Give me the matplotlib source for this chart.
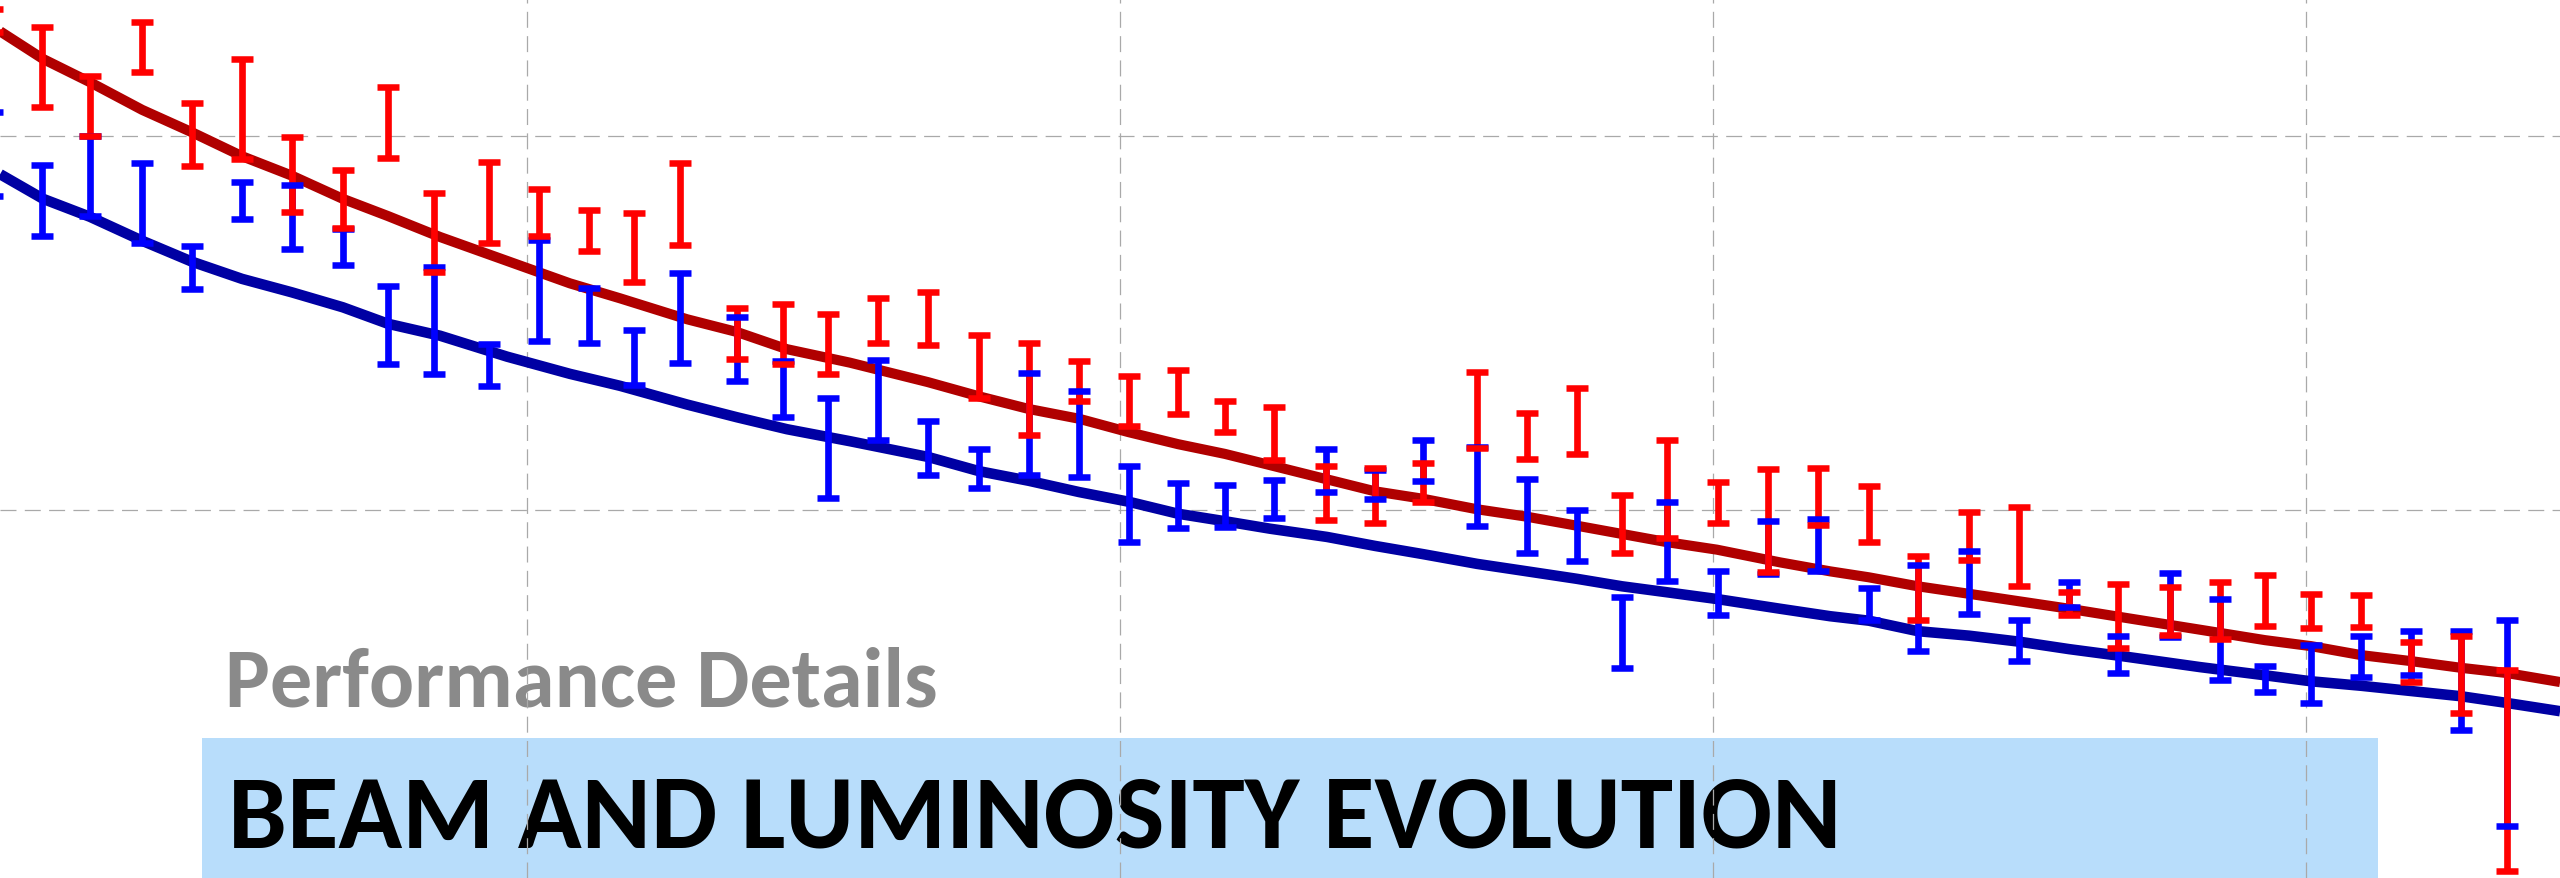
import matplotlib
matplotlib.use("Agg")
import matplotlib.pyplot as plt
from matplotlib.patches import Rectangle
from matplotlib import font_manager

# Measurement times (hours) shared by both series
TIME = [0.196, 0.365, 0.526, 0.703, 0.871, 1.040, 1.208, 1.378, 1.532, 1.686,
        1.872, 2.040, 2.209, 2.362, 2.516, 2.707, 2.864, 3.016, 3.185, 3.353,
        3.524, 3.694, 3.862, 4.031, 4.197, 4.354, 4.519, 4.694, 4.860, 5.021,
        5.205, 5.372, 5.540, 5.694, 5.846, 6.016, 6.187, 6.355, 6.526, 6.692,
        6.863, 7.033, 7.201, 7.366, 7.541, 7.710, 7.862, 8.016, 8.184, 8.353,
        8.523, 8.679]

# Red series: measured values and symmetric errors
RED_VAL = [1.654, 1.592, 1.540, 1.619, 1.502, 1.536, 1.449, 1.416, 1.518, 1.371,
           1.411, 1.398, 1.374, 1.351, 1.409, 1.236, 1.235, 1.222, 1.254, 1.256,
           1.192, 1.162, 1.173, 1.146, 1.158, 1.125, 1.102, 1.023, 1.020, 1.037,
           1.134, 1.099, 1.119, 0.981, 1.028, 1.010, 0.986, 1.018, 0.995, 0.896,
           0.965, 0.951, 0.875, 0.858, 0.865, 0.866, 0.879, 0.865, 0.865, 0.797,
           0.780, 0.652]
RED_ERR = [0.0154, 0.0535, 0.0401, 0.0334, 0.0417, 0.0664, 0.0501, 0.0390, 0.0475, 0.0532,
           0.0539, 0.0311, 0.0271, 0.0459, 0.0552, 0.0338, 0.0401, 0.0401, 0.0301, 0.0350,
           0.0417, 0.0615, 0.0267, 0.0334, 0.0297, 0.0211, 0.0357, 0.0361, 0.0368, 0.0258,
           0.0505, 0.0307, 0.0439, 0.0388, 0.0659, 0.0271, 0.0686, 0.0377, 0.0372, 0.0428,
           0.0318, 0.0532, 0.0158, 0.0428, 0.0321, 0.0378, 0.0341, 0.0223, 0.0218, 0.0265,
           0.0512, 0.1341]

# Blue series: measured values and symmetric errors
BLUE_VAL = [1.476, 1.414, 1.447, 1.410, 1.324, 1.414, 1.392, 1.352, 1.247, 1.253,
            1.194, 1.293, 1.260, 1.204, 1.257, 1.215, 1.162, 1.083, 1.147, 1.083,
            1.056, 1.115, 1.102, 1.008, 1.006, 1.005, 1.015, 1.053, 1.034, 1.066,
            1.031, 0.992, 0.966, 0.836, 0.958, 0.889, 0.950, 0.953, 0.874, 0.869,
            0.903, 0.826, 0.887, 0.807, 0.873, 0.827, 0.774, 0.781, 0.804, 0.809,
            0.772, 0.715]
BLUE_ERR = [0.0561, 0.0475, 0.0535, 0.0535, 0.0285, 0.0245, 0.0430, 0.0238, 0.0519, 0.0713,
            0.0283, 0.0675, 0.0372, 0.0370, 0.0598, 0.0430, 0.0378, 0.0671, 0.0537, 0.0364,
            0.0261, 0.0682, 0.0575, 0.0512, 0.0297, 0.0278, 0.0257, 0.0290, 0.0194, 0.0271,
            0.0528, 0.0499, 0.0345, 0.0475, 0.0528, 0.0291, 0.0357, 0.0345, 0.0217, 0.0572,
            0.0417, 0.0274, 0.0167, 0.0245, 0.0434, 0.0544, 0.0178, 0.0390, 0.0274, 0.0294,
            0.0662, 0.1374]

# Model curves
FIT_TIME = [0.223, 0.368, 0.526, 0.702, 0.870, 1.039, 1.207, 1.379, 1.531, 1.707,
            1.933, 2.145, 2.314, 2.540, 2.708, 2.877, 3.089, 3.352, 3.524, 3.693,
            3.862, 4.030, 4.196, 4.354, 4.506, 4.698, 4.860, 5.022, 5.204, 5.373,
            5.541, 5.693, 5.845, 6.013, 6.226, 6.395, 6.526, 6.691, 6.863, 7.032,
            7.201, 7.373, 7.642, 7.862, 8.017, 8.186, 8.354, 8.523, 8.678, 8.857]
RED_FIT = [1.640, 1.603, 1.572, 1.535, 1.505, 1.473, 1.447, 1.416, 1.393, 1.365,
           1.333, 1.303, 1.283, 1.255, 1.238, 1.215, 1.197, 1.171, 1.152, 1.135,
           1.122, 1.104, 1.088, 1.075, 1.060, 1.041, 1.025, 1.015, 1.001, 0.991,
           0.979, 0.968, 0.957, 0.947, 0.930, 0.918, 0.910, 0.898, 0.888, 0.878,
           0.868, 0.857, 0.840, 0.826, 0.818, 0.806, 0.798, 0.789, 0.782, 0.770]
BLUE_FIT = [1.449, 1.416, 1.392, 1.360, 1.332, 1.309, 1.291, 1.271, 1.249, 1.233,
            1.205, 1.182, 1.166, 1.141, 1.124, 1.108, 1.092, 1.071, 1.052, 1.039,
            1.024, 1.011, 0.995, 0.985, 0.975, 0.964, 0.952, 0.941, 0.928, 0.918,
            0.908, 0.898, 0.890, 0.881, 0.868, 0.858, 0.852, 0.838, 0.832, 0.824,
            0.814, 0.805, 0.790, 0.779, 0.771, 0.765, 0.758, 0.751, 0.742, 0.731]

X_GRID = [2, 4, 6, 8]
Y_GRID = [1.0, 1.5]

SUBTITLE = "Performance Details"
TITLE = "BEAM AND LUMINOSITY EVOLUTION"


def pick_font(candidates):
    for name in candidates:
        try:
            font_manager.findfont(font_manager.FontProperties(family=name, weight="bold"),
                                  fallback_to_default=False)
            return name
        except Exception:
            continue
    return "DejaVu Sans"


HEAD_FONT = pick_font(["Carlito", "Calibri", "Lato", "Open Sans"])

plt.rcParams["lines.scale_dashes"] = False

fig = plt.figure(figsize=(25.6, 8.79), dpi=100)
ax = fig.add_axes([0, 0, 1, 1])
ax.set_xlim(0.2226, 8.8567)
ax.set_ylim(0.5080, 1.6832)

ax.set_xticks(X_GRID)
ax.set_yticks(Y_GRID)
ax.tick_params(length=0, labelbottom=False, labelleft=False)
for s in ax.spines.values():
    s.set_visible(False)
ax.set_axisbelow(True)
ax.grid(True, color="#A9A9A9", linewidth=0.9, linestyle=(0, (11.5, 6.0)))

# Title banner
ax.add_patch(Rectangle((0.0789, 0.0), 0.8500, 0.1593, transform=ax.transAxes,
                       facecolor="#B8DDFB", edgecolor="none", zorder=0.2))
sub = ax.text(0.0879, 0.1957, SUBTITLE, transform=ax.transAxes, ha="left",
              va="baseline", fontsize=50, fontweight="bold", color="#8A8A8A",
              family=HEAD_FONT, zorder=0.3)
ttl = ax.text(0.0891, 0.0364, TITLE, transform=ax.transAxes, ha="left",
              va="baseline", fontsize=60, fontweight="bold", color="#000000",
              family=HEAD_FONT, zorder=0.3)

# Fitted curves
ax.plot(FIT_TIME, RED_FIT, color="#B00000", linewidth=7.3, zorder=2,
        solid_capstyle="butt")
ax.plot(FIT_TIME, BLUE_FIT, color="#0000A3", linewidth=7.6, zorder=2,
        solid_capstyle="butt")

# Measurements with error bars
eb_blue = ax.errorbar(TIME, BLUE_VAL, yerr=BLUE_ERR, fmt="none", ecolor="#0000FF",
                      elinewidth=4.8, capsize=7.9, capthick=4.7)
eb_red = ax.errorbar(TIME, RED_VAL, yerr=RED_ERR, fmt="none", ecolor="#FF0000",
                     elinewidth=4.8, capsize=7.9, capthick=4.7)
for col in eb_blue[2]:
    col.set_zorder(3.0)
for col in eb_red[2]:
    col.set_zorder(3.1)
for cap in eb_blue[1]:
    cap.set_zorder(3.2)
for cap in eb_red[1]:
    cap.set_zorder(3.3)

# Size the headings to their banner widths
fig.canvas.draw()
renderer = fig.canvas.get_renderer()
for txt, target in ((sub, 714.0), (ttl, 1614.0)):
    w = txt.get_window_extent(renderer).width
    txt.set_fontsize(txt.get_fontsize() * target / w)

fig.savefig("out.png", dpi=100)
